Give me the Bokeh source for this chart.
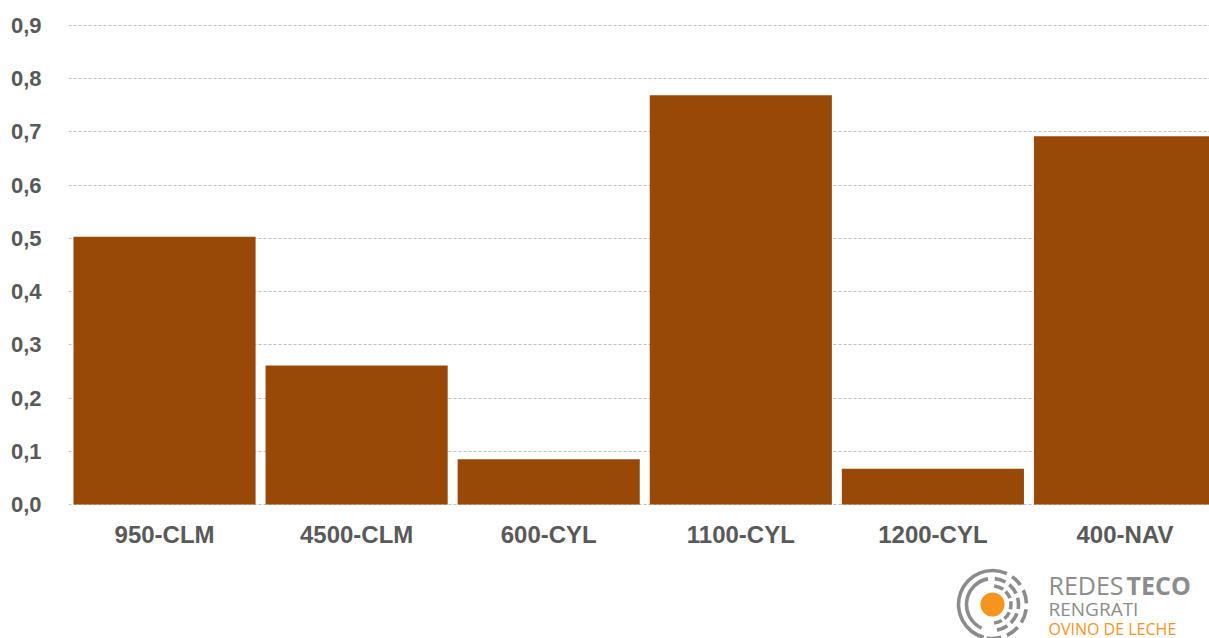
import math
from bokeh.plotting import figure
from bokeh.layouts import column, row
from bokeh.models import ColumnDataSource, FixedTicker, Range1d, Spacer, CustomJSTickFormatter
from bokeh.core.properties import value
from bokeh.embed import file_html
from bokeh.resources import INLINE

categories = ["950-CLM", "4500-CLM", "600-CYL", "1100-CYL", "1200-CYL", "400-NAV"]
values = [0.503, 0.261, 0.085, 0.769, 0.067, 0.692]
y_ticks = [0.0, 0.1, 0.2, 0.3, 0.4, 0.5, 0.6, 0.7, 0.8, 0.9]

BAR = "#984807"
GRAY = "#595959"
LOGO_GRAY = "#8C8C8C"
LOGO_ORANGE = "#F7941D"

xs = list(range(len(categories)))
src = ColumnDataSource(dict(x=xs, top=values, cat=categories))

W = 1209
CHART_H = 560
LOGO_X0, LOGO_H = 940, 78

p = figure(width=W, height=CHART_H, output_backend="svg", toolbar_location=None,
           x_range=Range1d(-0.5, 5.44), y_range=Range1d(-0.001875, 0.902),
           min_border_left=68, min_border_right=0, min_border_top=24, min_border_bottom=55)
p.outline_line_color = None
p.background_fill_color = "white"
p.border_fill_color = "white"

p.vbar(x="x", top="top", width=0.948, bottom=0, source=src, fill_color=BAR, line_color=None)

p.xaxis.ticker = FixedTicker(ticks=xs)
p.xaxis.major_label_overrides = {i: c for i, c in enumerate(categories)}
p.yaxis.ticker = FixedTicker(ticks=y_ticks)
p.yaxis.formatter = CustomJSTickFormatter(code="return tick.toFixed(1).replace('.', ',');")
for ax in (p.xaxis, p.yaxis):
    ax.axis_line_color = None
    ax.major_tick_line_color = None
    ax.minor_tick_line_color = None
    ax.major_label_text_font = "Liberation Sans"
    ax.major_label_text_font_style = "bold"
    ax.major_label_text_color = GRAY
p.xaxis.major_label_text_font_size = "24px"
p.yaxis.major_label_text_font_size = "22px"
p.xaxis.major_label_standoff = 9
p.yaxis.major_label_standoff = 21

p.xgrid.grid_line_color = None
p.ygrid.grid_line_color = "#BFBFBF"
p.ygrid.grid_line_dash = "3 2"
p.ygrid.grid_line_width = 1

# ---- logo: a small figure whose data units are page pixels ----
logo = figure(width=W - LOGO_X0, height=LOGO_H, output_backend="svg", toolbar_location=None,
              x_range=Range1d(LOGO_X0, W), y_range=Range1d(CHART_H + LOGO_H, CHART_H),
              x_axis_type=None, y_axis_type=None,
              min_border_left=0, min_border_right=0, min_border_top=0, min_border_bottom=0)
logo.outline_line_color = None
logo.xgrid.grid_line_color = None
logo.ygrid.grid_line_color = None
logo.background_fill_color = "white"
logo.border_fill_color = "white"

cx, cy = 992, 604
logo.circle(x=[cx], y=[cy], radius=12, fill_color=LOGO_ORANGE, line_color=None)

ring_segments = [
    (34, 65, 255), (34, -100, -75), (34, -65, -42), (34, -32, -8), (34, 2, 25), (34, 35, 55),
    (26, 100, 245), (26, 60, 85), (26, 25, 50), (26, -10, 15), (26, -45, -20), (26, -80, -55),
    (18.5, 55, 85), (18.5, 20, 45), (18.5, -15, 10), (18.5, -50, -25), (18.5, -85, -60),
]
seg = ColumnDataSource(dict(
    x=[cx] * len(ring_segments), y=[cy] * len(ring_segments),
    inner=[s[0] - 1.8 for s in ring_segments], outer=[s[0] + 1.8 for s in ring_segments],
    start=[math.radians(s[1]) for s in ring_segments], end=[math.radians(s[2]) for s in ring_segments]))
logo.annular_wedge(x="x", y="y", inner_radius="inner", outer_radius="outer",
                   start_angle="start", end_angle="end", source=seg,
                   fill_color=LOGO_GRAY, line_color=None)

font = value("Open Sans")
logo.text(x=[1048], y=[584], text=["REDES"], text_font=font, text_font_size="25px",
          text_color=LOGO_GRAY, text_baseline="alphabetic")
logo.text(x=[1126], y=[584], text=["TECO"], text_font=font, text_font_style="bold",
          text_font_size="25px", text_color=LOGO_GRAY, text_baseline="alphabetic")
logo.text(x=[1048], y=[608], text=["RENGRATI"], text_font=font, text_font_size="19px",
          text_color=LOGO_GRAY, text_baseline="alphabetic")
logo.text(x=[1048], y=[628], text=["OVINO DE LECHE"], text_font=font, text_font_size="16px",
          text_color=LOGO_ORANGE, text_baseline="alphabetic")

layout = column(p, row(Spacer(width=LOGO_X0, height=LOGO_H), logo))
open("out.html", "w").write(file_html(layout, INLINE))
